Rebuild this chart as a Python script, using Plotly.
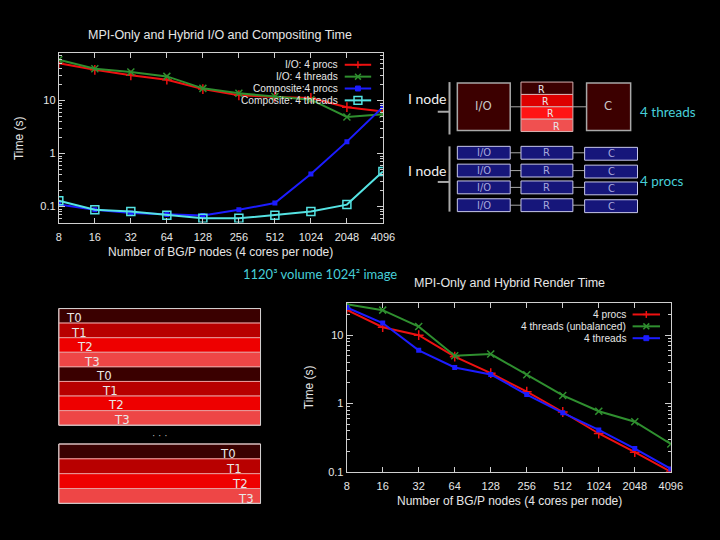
import math
import plotly.graph_objects as go

# ---------------- data ----------------
nodes = [8, 16, 32, 64, 128, 256, 512, 1024, 2048, 4096]
node_labels = [str(n) for n in nodes]

io_procs = [50.8, 38, 30, 24.8, 16.5, 12.6, 11.7, 11.2, 7.5, 6.2]
io_threads = [59, 40, 34.5, 28.6, 17, 13.7, 11.9, 10.4, 4.9, 5.5]
comp_procs = [0.109, 0.087, 0.076, 0.071, 0.068, 0.087, 0.117, 0.41, 1.68, 7.6]
comp_threads = [0.129, 0.087, 0.081, 0.069, 0.060, 0.060, 0.069, 0.081, 0.109, 0.46]

render_procs = [23.5, 13.1, 10.0, 4.85, 2.78, 1.49, 0.75, 0.363, 0.193, 0.100]
render_unbal = [28.4, 23.3, 13.4, 5.0, 5.3, 2.63, 1.31, 0.77, 0.54, 0.255]
render_threads = [25.5, 15.1, 6.0, 3.37, 2.66, 1.35, 0.73, 0.41, 0.218, 0.11]

top_names = ["I/O: 4 procs", "I/O: 4 threads", "Composite:4 procs", "Composite: 4 threads"]
bot_names = ["4 procs", "4 threads (unbalanced)", "4 threads"]

y_ticks = [0.1, 1, 10]
y_tick_text = ["0.1", "1", "10"]

# ---------------- styles ----------------
W, H = 720, 540
RED, GREEN, BLUE, CYAN = "#ee1111", "#2f8f2f", "#1c1cff", "#55e3e3"
AX = "#cfcfcf"
TXT = "#e6e6e6"
SLIDE_CYAN = "#47cfd9"
FONT = "Liberation Sans, Arial, sans-serif"
SLIDE_FONT = "Lato, Open Sans, sans-serif"
NARROW = "Liberation Sans Narrow, DejaVu Sans Condensed, Liberation Sans, sans-serif"


def px(x):
    return x / W


def py(y):
    return 1 - y / H


fig = go.Figure()

top_series = [io_procs, io_threads, comp_procs, comp_threads]
top_style = [
    (RED, dict(symbol="cross-thin", size=7, line=dict(color=RED, width=1.5))),
    (GREEN, dict(symbol="x-thin", size=7, line=dict(color=GREEN, width=1.5))),
    (BLUE, dict(symbol="square", size=5, color=BLUE)),
    (CYAN, dict(symbol="square-open", size=8, color=CYAN, line=dict(color=CYAN, width=1.5))),
]
for name, vals, (col, mk) in zip(top_names, top_series, top_style):
    fig.add_trace(go.Scatter(x=nodes, y=vals, name=name, mode="lines+markers",
                             line=dict(color=col, width=2), marker=mk,
                             xaxis="x", yaxis="y", showlegend=False))

bot_series = [render_procs, render_unbal, render_threads]
bot_style = top_style[:3]
for name, vals, (col, mk) in zip(bot_names, bot_series, bot_style):
    fig.add_trace(go.Scatter(x=nodes, y=vals, name=name, mode="lines+markers",
                             line=dict(color=col, width=2), marker=mk,
                             xaxis="x2", yaxis="y2", showlegend=False))

minor_vals = []
for d in [0.01, 0.1, 1, 10]:
    for k in range(2, 10):
        minor_vals.append(k * d)


def xaxis(domain, anchor):
    return dict(domain=domain, anchor=anchor, type="log",
                range=[math.log10(nodes[0]), math.log10(nodes[-1])],
                tickmode="array", tickvals=nodes, ticktext=node_labels,
                ticks="inside", ticklen=5, tickcolor=AX, showline=True,
                linecolor=AX, linewidth=1, mirror="allticks", showgrid=False,
                zeroline=False, ticklabelstandoff=4,
                tickfont=dict(color=TXT, size=11, family=FONT))


def yaxis(domain, anchor, rng):
    return dict(domain=domain, anchor=anchor, type="log", range=rng,
                tickmode="array", tickvals=y_ticks, ticktext=y_tick_text,
                ticks="inside", ticklen=6, tickcolor=AX, showline=True,
                linecolor=AX, linewidth=1, mirror="allticks", showgrid=False,
                zeroline=False, tickfont=dict(color=TXT, size=11, family=FONT),
                minor=dict(tickmode="array", tickvals=minor_vals, ticks="inside",
                           ticklen=3, tickcolor=AX, showgrid=False))


shapes = []
annotations = []


def text(x, y, s, size=11, color=TXT, family=FONT, xanchor="center", angle=0):
    annotations.append(dict(x=px(x), y=py(y), xref="paper", yref="paper", text=s,
                            showarrow=False, xanchor=xanchor, yanchor="middle",
                            textangle=angle,
                            font=dict(size=size, color=color, family=family)))


def line(x0, y0, x1, y1, color=AX, width=1):
    shapes.append(dict(type="line", xref="paper", yref="paper", x0=px(x0), y0=py(y0),
                       x1=px(x1), y1=py(y1), line=dict(color=color, width=width)))


def rect(x0, y0, x1, y1, fill, color=AX, width=1):
    shapes.append(dict(type="rect", xref="paper", yref="paper", x0=px(x0), y0=py(y0),
                       x1=px(x1), y1=py(y1), fillcolor=fill,
                       line=dict(color=color, width=width)))


# ---- titles ----
text(222, 35, "MPI-Only and Hybrid I/O and Compositing Time", size=12.5)
text(222, 255, "Number of BG/P nodes (4 cores per node)", size=12)
text(17, 140, "Time (s)", size=12, angle=-90)
text(517, 286, "MPI-Only and Hybrid Render Time", size=12.5)
text(517, 507, "Number of BG/P nodes (4 cores per node)", size=12)
text(312, 392, "Time (s)", size=12, angle=-90)
text(243, 277, "1120³ volume 1024² image", size=13, color=SLIDE_CYAN,
     family=SLIDE_FONT, xanchor="left")


# ---- custom gnuplot-style legends (text right, sample on the right) ----
def legend_key(xt, x0, x1, y, name, col, kind):
    text(xt, y, name, size=10.2, xanchor="right")
    line(x0, y, x1, y, color=col, width=2)
    cx = (x0 + x1) / 2
    if kind == 0:
        line(cx - 3.5, y, cx + 3.5, y, color=col, width=1.5)
        line(cx, y - 3.5, cx, y + 3.5, color=col, width=1.5)
    elif kind == 1:
        line(cx - 3, y - 3, cx + 3, y + 3, color=col, width=1.5)
        line(cx - 3, y + 3, cx + 3, y - 3, color=col, width=1.5)
    elif kind == 2:
        rect(cx - 2.5, y - 2.5, cx + 2.5, y + 2.5, col, color=col, width=1)
    else:
        rect(cx - 4, y - 4, cx + 4, y + 4, "rgba(0,0,0,0)", color=col, width=1.5)


cols = [RED, GREEN, BLUE, CYAN]
for i, (nm, yy) in enumerate(zip(top_names, [65.5, 77.5, 89.5, 101.5])):
    legend_key(344, 349, 376, yy, nm, cols[i], i)
for i, (nm, yy) in enumerate(zip(bot_names, [318, 330, 342])):
    legend_key(638, 643, 671, yy, nm, cols[i], i)

# ---- top-right diagram: 4 threads ----
GRAY = "#a8a8a8"
DARKRED = "#3c0000"
text(412, 100, "I node", size=14, color="#f0f0f0", family=SLIDE_FONT, xanchor="left")
line(456, 83, 456, 136, color=GRAY, width=2)
line(444, 113, 456, 113, color=GRAY, width=2)
line(518, 108, 529, 108, color=GRAY, width=1)
line(582, 108, 596, 108, color=GRAY, width=1)
rect(464, 84, 518, 132, DARKRED, color=GRAY, width=1.5)
text(491, 107, "I/O", size=13, color="#c8c8c8", family=NARROW)
r_cols = [DARKRED, "#dd0000", "#ff1414", "#f05050"]
r_y = [83, 95.5, 108, 120.5, 133]
for k in range(4):
    rect(529, r_y[k], 582, r_y[k + 1], r_cols[k], color="#d8b0b0", width=1)
for k, xx in enumerate([550, 554, 559, 565]):
    text(xx, r_y[k] + 6.5, "R", size=10.5, color="#e8e8e8", family=NARROW)
rect(596, 84, 641, 132, DARKRED, color=GRAY, width=1.5)
text(618, 107, "C", size=13, color="#c8c8c8", family=NARROW)
text(649, 113, "4 threads", size=13.5, color=SLIDE_CYAN, family=SLIDE_FONT, xanchor="left")

# ---- 4 procs diagram ----
NAVY = "#16167a"
BORDER = "#c8c8ea"
LBL = "#a8a8dc"
text(412, 172, "I node", size=14, color="#f0f0f0", family=SLIDE_FONT, xanchor="left")
line(456, 148, 456, 214, color=GRAY, width=2)
line(444, 184, 456, 184, color=GRAY, width=2)
for top in [148, 166, 183, 201]:
    mid = top + 6.5
    line(518, mid, 529, mid, color=GRAY, width=1)
    line(582, mid, 594, mid, color=GRAY, width=1)
    rect(464, top, 518, top + 13, NAVY, color=BORDER, width=1)
    rect(529, top, 582, top + 13, NAVY, color=BORDER, width=1)
    rect(594, top + 1, 648, top + 14, NAVY, color=BORDER, width=1)
    text(491, mid, "I/O", size=11, color=LBL, family=NARROW)
    text(555, mid, "R", size=11, color=LBL, family=NARROW)
    text(621, mid + 1, "C", size=11, color=LBL, family=NARROW)
text(649, 183, "4 procs", size=13.5, color=SLIDE_CYAN, family=SLIDE_FONT, xanchor="left")

# ---- bottom-left thread interleaving diagram ----
stripe_cols = ["#3a0000", "#b80000", "#ee0000", "#ee4646"]
h1 = (430 - 312) / 8
for k in range(8):
    rect(57, 312 + k * h1, 263, 312 + (k + 1) * h1, stripe_cols[k % 4], color="#e89a9a", width=1)
rect(57, 312, 263, 430, "rgba(0,0,0,0)", color="#d0d0d0", width=1)
lx = [72, 78, 84, 91, 103, 109, 115, 122]
for k in range(8):
    text(lx[k], 312 + k * h1 + 9, "T%d" % (k % 4), size=13, color="#e8e8e8", family=NARROW)
text(160, 440, "· · ·", size=10, color="#bbbbbb")
h2 = (509 - 449) / 4
for k in range(4):
    rect(57, 449 + k * h2, 263, 449 + (k + 1) * h2, stripe_cols[k], color="#e89a9a", width=1)
rect(57, 449, 263, 509, "rgba(0,0,0,0)", color="#d0d0d0", width=1)
for k, xx in enumerate([230, 236, 242, 248]):
    text(xx, 449 + k * h2 + 10, "T%d" % k, size=13, color="#e8e8e8", family=NARROW)

fig.update_layout(
    width=W, height=H, margin=dict(l=0, r=0, t=0, b=0),
    paper_bgcolor="black", plot_bgcolor="black",
    xaxis=xaxis([px(57), px(388)], "y"),
    yaxis=yaxis([py(225), py(54)], "x", [-1.3, 1.89]),
    xaxis2=xaxis([px(351), px(682)], "y2"),
    yaxis2=yaxis([py(477), py(306)], "x2", [-1.0, 1.478]),
    shapes=shapes, annotations=annotations, showlegend=False,
)

fig.write_html(
    "out.html",
    config={"displayModeBar": False},
    post_script="document.body.style.margin='0';document.body.style.background='black';",
)
